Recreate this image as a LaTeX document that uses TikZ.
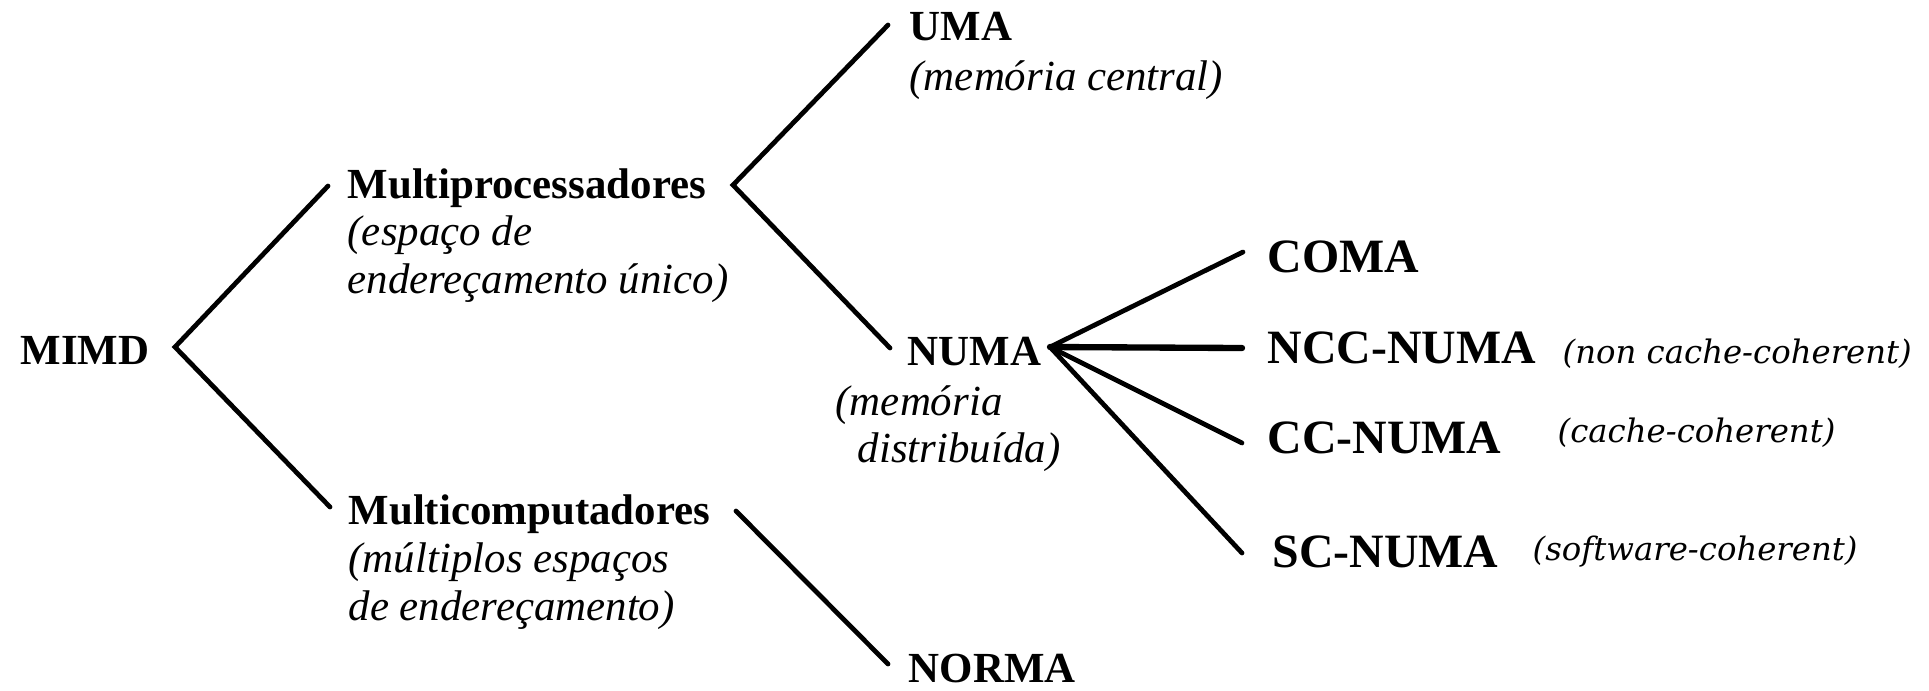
\documentclass[tikz,border=0pt]{standalone}
\usepackage{fontspec}
\setmainfont{Liberation Serif}
\newfontfamily\notefont{DejaVu Serif}
\begin{document}
\begin{tikzpicture}[x=0.01cm,y=-0.01cm,
  term/.style={anchor=base west,inner sep=0pt,font=\fontsize{12.2pt}{14pt}\selectfont\bfseries},
  bigterm/.style={term,font=\fontsize{13.6pt}{16pt}\selectfont\bfseries},
  gloss/.style={anchor=base west,inner sep=0pt,font=\fontsize{12.2pt}{14pt}\selectfont\itshape},
  note/.style={anchor=base west,inner sep=0pt,font=\notefont\fontsize{9.2pt}{11pt}\selectfont\itshape},
  branch/.style={line width=1.35pt,line cap=round}]
\useasboundingbox (0,0) rectangle (1929,690);

% fork points and branch ends
\coordinate (mimd-fork) at (175,347);
\coordinate (mp-in)     at (328,186);
\coordinate (mc-in)     at (330,507);
\coordinate (mp-fork)   at (733,185);
\coordinate (uma-in)    at (888,25);
\coordinate (numa-in)   at (890,348);
\coordinate (mc-out)    at (736,511);
\coordinate (norma-in)  at (888,664);
\coordinate (numa-fork) at (1050,347);
\coordinate (coma-in)   at (1243,252);
\coordinate (ncc-in)    at (1242,348);
\coordinate (cc-in)     at (1242,443);
\coordinate (sc-in)     at (1242,553);

% labels
\node[term]  (mimd)  at (20,364)  {MIMD};
\node[term]  (mp)    at (347,198) {Multiprocessadores};
\node[gloss] (mp1)   at (347,245) {(espaço de};
\node[gloss] (mp2)   at (347,293) {endereçamento único)};
\node[term]  (mc)    at (348,524) {Multicomputadores};
\node[gloss] (mc1)   at (348,572) {(múltiplos espaços};
\node[gloss] (mc2)   at (348,620) {de endereçamento)};
\node[term]  (uma)   at (909,40)  {UMA};
\node[gloss] (uma1)  at (909,90)  {(memória central)};
\node[term]  (numa)  at (907,365) {NUMA};
\node[gloss] (numa1) at (835,415) {(memória};
\node[gloss] (numa2) at (857,462) {distribuída)};
\node[term]  (norma) at (908,682) {NORMA};
\node[bigterm] (coma) at (1267,272) {COMA};
\node[bigterm] (ncc)  at (1267,363) {NCC-NUMA};
\node[note]    (ncc1) at (1562,363) {(non cache-coherent)};
\node[bigterm] (cc)   at (1267,453) {CC-NUMA};
\node[note]    (cc1)  at (1557,442) {(cache-coherent)};
\node[bigterm] (sc)   at (1272,567) {SC-NUMA};
\node[note]    (sc1)  at (1532,560) {(software-coherent)};

% tree branches
\draw[branch] (mp-in) -- (mimd-fork) -- (mc-in);
\draw[branch] (uma-in) -- (mp-fork) -- (numa-in);
\draw[branch] (mc-out) -- (norma-in);
\draw[branch] (numa-fork) -- (coma-in);
\draw[branch,line width=1.8pt] (numa-fork) -- (ncc-in);
\draw[branch] (numa-fork) -- (cc-in);
\draw[branch] (numa-fork) -- (sc-in);
\end{tikzpicture}
\end{document}
